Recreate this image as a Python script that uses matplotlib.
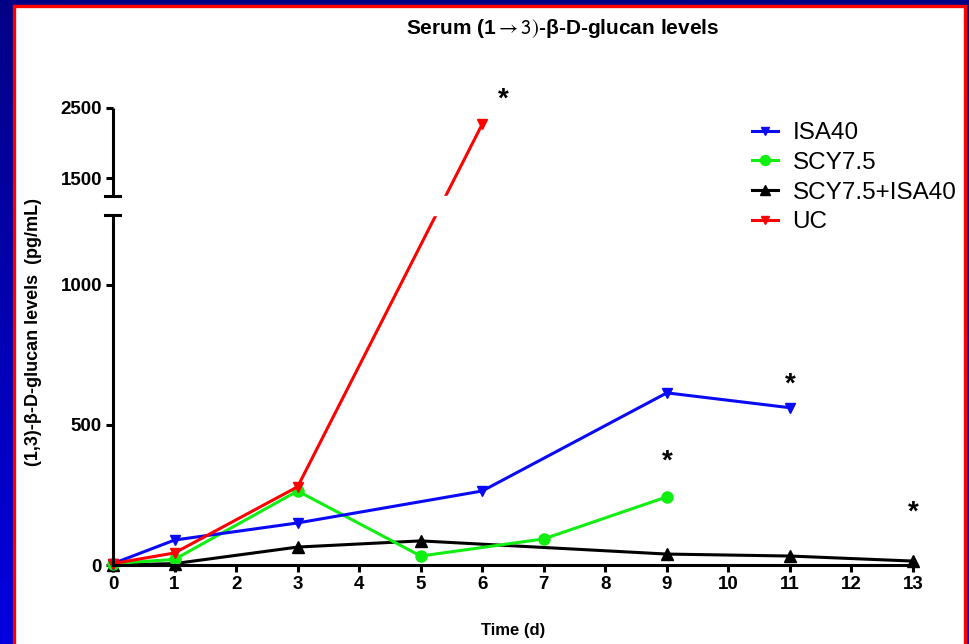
import numpy as np
import matplotlib
matplotlib.use("Agg")
import matplotlib.pyplot as plt
from matplotlib.patches import Rectangle

plt.rcParams['font.family'] = ['Liberation Sans', 'DejaVu Sans']
plt.rcParams['mathtext.fontset'] = 'stixsans'

# data
isa_x = [0, 1, 3, 6, 9, 11]
isa_y = [5, 89, 150, 264, 614, 561]
scy_x = [0, 1, 3, 5, 7, 9]
scy_y = [5, 20, 264, 32, 93, 243]
combo_x = [0, 1, 3, 5, 9, 11, 13]
combo_y = [0, 5, 64, 86, 39, 32, 14]
uc_x = [0, 1, 3, 6]
uc_y = [5, 43, 279, 2270]
labels = ['ISA40', 'SCY7.5', 'SCY7.5+ISA40', 'UC']
star_x = [6.35, 11.0, 9.0, 13.0]
star_y = [2615, 643, 368, 186]
x_ticks = list(range(0, 14))
y_ticks = [0, 500, 1000, 1500, 2500]

# broken y axis: 0-1250 steep, small gap, 1250-2500 compressed
BRK = 1250.0
LO = 0.28
HI = 0.07
GAP = 19.0


def fwd(y):
    y = np.asarray(y, dtype=float)
    return np.where(y <= BRK, y * LO,
                    np.where(y <= BRK + 1, BRK * LO + (y - BRK) * GAP,
                             BRK * LO + GAP + (y - BRK - 1) * HI))


def inv(u):
    u = np.asarray(u, dtype=float)
    a = BRK * LO
    return np.where(u <= a, u / LO,
                    np.where(u <= a + GAP, BRK + (u - a) / GAP,
                             BRK + 1 + (u - a - GAP) / HI))


W, H = 970, 644
fig = plt.figure(figsize=(W / 100, H / 100), dpi=100)

# background: blue gradient with white panel and red border
bg = fig.add_axes([0, 0, 1, 1], zorder=-10)
grad = np.linspace(0, 1, 256).reshape(-1, 1)
cmap = matplotlib.colors.LinearSegmentedColormap.from_list('bl', ['#000086', '#0000E0'])
bg.imshow(grad, aspect='auto', cmap=cmap, extent=[0, 1, 0, 1])
bg.add_patch(Rectangle((14.5 / W, -0.05), (965 - 14.5) / W, 1.05 - 5.5 / H,
                       facecolor='white', edgecolor='#FF0000', linewidth=2.4))
bg.set_xlim(0, 1)
bg.set_ylim(0, 1)
bg.axis('off')

ax = fig.add_axes([113 / W, 1 - 565 / H, 800 / W, 457 / H])
ax.patch.set_alpha(0)
ax.set_yscale('function', functions=(fwd, inv))
ax.set_xlim(0, 13)
ax.set_ylim(0, 2500)

lw = 2.2
ax.plot(combo_x, combo_y, color='black', lw=lw, marker='^', ms=8, clip_on=False, label=labels[2])
ax.plot(scy_x, scy_y, color='#11EE11', lw=lw, marker='o', ms=8, clip_on=False, label=labels[1])
ax.plot(isa_x, isa_y, color='#0A0AF5', lw=lw, marker='v', ms=7, clip_on=False, label=labels[0])
ax.plot(uc_x, uc_y, color='#FF0000', lw=lw, marker='v', ms=7, clip_on=False, label=labels[3])

# gap across the axis break
ax.axhspan(BRK, BRK + 1, xmin=-0.02, xmax=1, color='white', zorder=5, clip_on=False)

for sp in ['top', 'right', 'left']:
    ax.spines[sp].set_visible(False)
ax.spines['bottom'].set_linewidth(lw)
yt = ax.get_yaxis_transform()
ax.plot([0, 0], [0, BRK], color='black', lw=lw, transform=yt, clip_on=False, zorder=6, solid_capstyle='butt')
ax.plot([0, 0], [BRK + 1, 2500], color='black', lw=lw, transform=yt, clip_on=False, zorder=6, solid_capstyle='butt')
cap = 7.5 / 800
ax.plot([-cap, cap], [BRK, BRK], color='black', lw=lw, transform=yt, clip_on=False, zorder=6)
ax.plot([-cap, cap], [BRK + 1, BRK + 1], color='black', lw=lw, transform=yt, clip_on=False, zorder=6)

ax.set_xticks(x_ticks)
ax.set_yticks(y_ticks)
ax.yaxis.set_minor_locator(matplotlib.ticker.NullLocator())
ax.tick_params(axis='both', direction='out', length=5, width=lw, pad=3, labelsize=13.5)
for t in ax.get_xticklabels() + ax.get_yticklabels():
    t.set_fontweight('bold')

for sx, sy in zip(star_x, star_y):
    ax.text(sx, sy, '*', fontsize=20, fontweight='bold', ha='center', va='center', clip_on=False)

fig.text(563 / W, 1 - 28 / H, 'Serum (1$\\rightarrow3)$-β-D-glucan levels',
         ha='center', va='center', fontsize=15, fontweight='bold')
fig.text(513 / W, 1 - 630 / H, 'Time (d)', ha='center', va='center', fontsize=12,
         fontweight='bold')
fig.text(34 / W, 1 - 332 / H, '(1,3)-β-D-glucan levels  (pg/mL)', rotation=90,
         ha='center', va='center', fontsize=13, fontweight='bold')

h, l = ax.get_legend_handles_labels()
order = [2, 1, 0, 3]
fig.legend([h[i] for i in order], [l[i] for i in order], loc='upper left',
           bbox_to_anchor=(752 / W, 1 - 122 / H), frameon=False, fontsize=17.5,
           handlelength=1.07, handletextpad=0.6, labelspacing=0.32, borderpad=0,
           borderaxespad=0, markerscale=0.9)

fig.savefig('out.png', dpi=100)
